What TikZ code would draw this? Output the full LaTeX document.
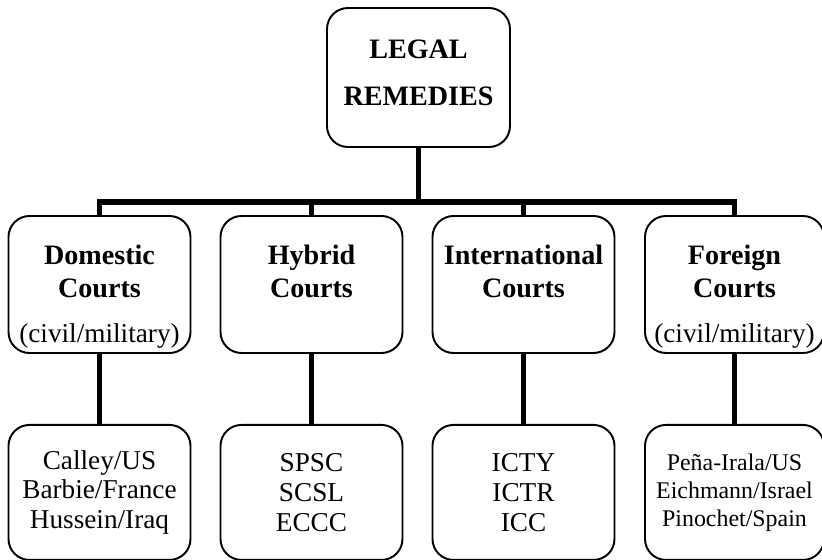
\documentclass[tikz,border=0pt]{standalone}
\usepackage{fontspec}
\setmainfont{Liberation Serif}
\usetikzlibrary{positioning}

\begin{document}
\begin{tikzpicture}[
    court/.style={draw, rounded corners=0.42cm, line width=1.1pt, minimum width=3.64cm, minimum height=2.74cm},
    casebox/.style={court, minimum height=2.7cm, align=center, font=\fontsize{15.5}{17}\selectfont},
    head/.style={inner sep=0pt, align=center, font=\bfseries\fontsize{16}{18.8}\selectfont},
    conn/.style={line width=3.3pt},
]
    \useasboundingbox (0,0) rectangle (16.44,-11.2);

    % --- TOP: LEGAL REMEDIES ---
    \node[court, minimum width=3.66cm, minimum height=2.78cm, align=center, text depth=0.2cm,
          font=\bfseries\fontsize{16}{26.7}\selectfont] (rem) at (8.37,-1.55) {LEGAL\\REMEDIES};
    \coordinate (bar) at (8.37,-4.04);

    % --- MIDDLE: KINDS OF COURTS ---
    \node[court] (dom) at (1.99,-5.69) {};
    \node[court] (hyb) at (6.23,-5.69) {};
    \node[court] (intl) at (10.47,-5.69) {};
    \node[court, minimum width=3.58cm] (forn) at (14.69,-5.69) {};

    \node[head, below=0.6cm of dom.north] (domtxt)
        {Domestic\\Courts\\[6.8pt]{\mdseries\fontsize{15.5}{17}\selectfont (civil/military)}};
    \node[head, below=0.6cm of hyb.north] (hybtxt) {Hybrid\\Courts};
    \node[head, below=0.6cm of intl.north] (intltxt) {International\\Courts};
    \node[head, below=0.6cm of forn.north] (forntxt)
        {Foreign\\Courts\\[6.8pt]{\mdseries\fontsize{15.5}{17}\selectfont (civil/military)}};

    % --- BOTTOM: CASES ---
    \node[casebox, below=1.4cm of dom] (casedom) {Calley/US\\Barbie/France\\Hussein/Iraq};
    \node[casebox, below=1.4cm of hyb] (casehyb) {SPSC\\SCSL\\ECCC};
    \node[casebox, below=1.4cm of intl] (caseintl) {ICTY\\ICTR\\ICC};
    \node[casebox, minimum width=3.58cm, font=\fontsize{13.6}{15.9}\selectfont,
          below=1.4cm of forn] (caseforn) {Peña-Irala/US\\Eichmann/Israel\\Pinochet/Spain};

    % Connectors
    \draw[conn] (rem) -- (bar);
    \foreach \c in {dom,hyb,intl,forn} {
        \draw[conn] (\c) |- (bar);
        \draw[conn] (\c) -- (case\c);
    }
\end{tikzpicture}
\end{document}
